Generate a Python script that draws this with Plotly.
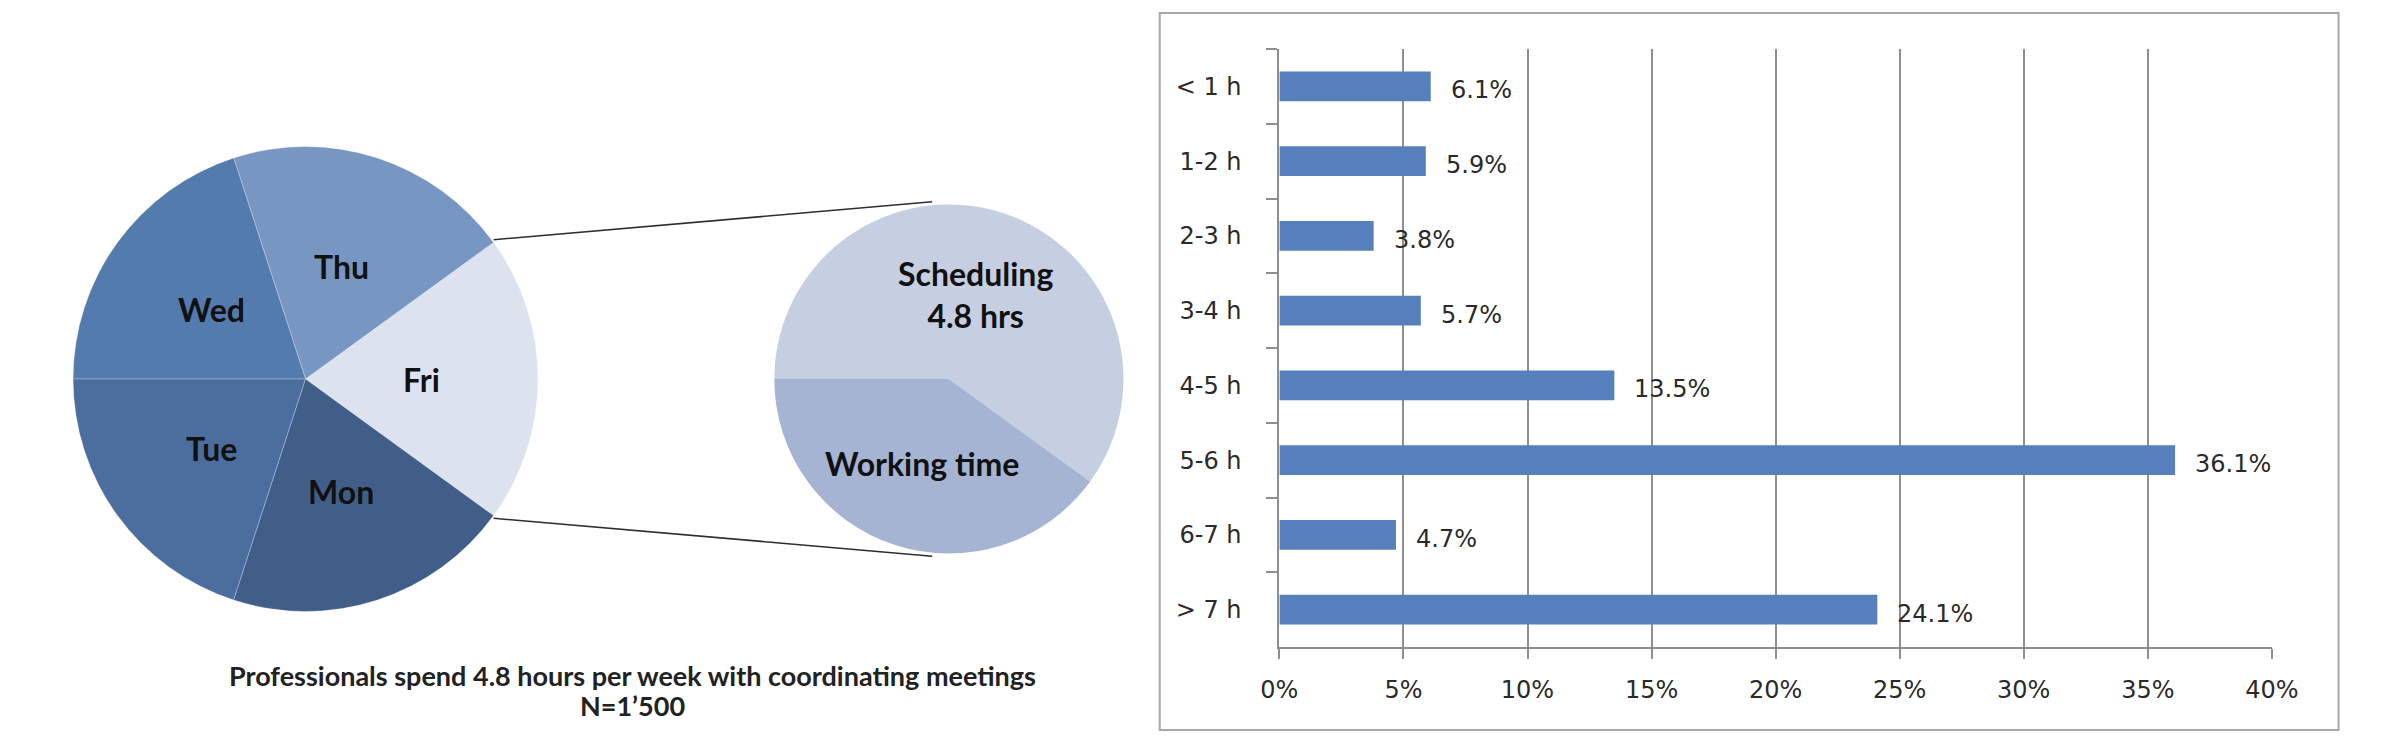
import math
import plotly.graph_objects as go

# ---------------- data ----------------
days = ["Fri", "Thu", "Wed", "Tue", "Mon"]
day_share = [20, 20, 20, 20, 20]
day_colors = ["#DCE2EE", "#7896C2", "#547BAE", "#4C6E9F", "#415E89"]

split_labels = ["Scheduling<br>4.8 hrs", "Working time"]
split_share = [60, 40]
split_colors = ["#C6CEE2", "#A5B4D3"]

hour_bins = ["< 1 h", "1-2 h", "2-3 h", "3-4 h", "4-5 h", "5-6 h", "6-7 h", "> 7 h"]
hour_pct = [6.1, 5.9, 3.8, 5.7, 13.5, 36.1, 4.7, 24.1]

caption = "Professionals spend 4.8 hours per week with coordinating meetings"
sample = "N=1\u2019500"

# ---------------- layout constants ----------------
W, H = 2386, 742
BIG_C, BIG_R = (284, 371), 237
SMALL_C, SMALL_R = (940, 371), 178
START = -36  # math angle (deg) where the first slice begins, slices run counterclockwise
PIE_FONT = "Lato, 'Open Sans', sans-serif"
BAR_FONT = "'DejaVu Sans', Verdana, sans-serif"


def dom(c, r):
    return dict(x=[(c[0] - r) / W, (c[0] + r) / W],
                y=[1 - (c[1] + r) / H, 1 - (c[1] - r) / H])


def to_paper(c, r, ang_deg, frac):
    a = math.radians(ang_deg)
    px = c[0] + frac * r * math.cos(a)
    py = c[1] - frac * r * math.sin(a)
    return px / W, 1 - py / H


def rotation_for(values):
    # plotly (counterclockwise): rotation = clockwise-from-12 angle of the ccw end of slice 1
    first = 360 * values[0] / float(sum(values))
    return 90 - (START + first)


fig = go.Figure()

fig.add_trace(go.Pie(
    labels=days, values=day_share, sort=False, direction="counterclockwise",
    rotation=rotation_for(day_share), textinfo="none", hoverinfo="label+percent",
    marker=dict(colors=day_colors, line=dict(color="rgba(255,255,255,0.25)", width=1)),
    domain=dom(BIG_C, BIG_R), showlegend=False))

fig.add_trace(go.Pie(
    labels=split_labels, values=split_share, sort=False, direction="counterclockwise",
    rotation=rotation_for(split_share), textinfo="none", hoverinfo="label+percent",
    marker=dict(colors=split_colors, line=dict(width=0)),
    domain=dom(SMALL_C, SMALL_R), showlegend=False))

annotations = []


def slice_labels(labels, values, c, r):
    total = float(sum(values))
    cum = 0.0
    for lab, v in zip(labels, values):
        mid = START + 360 * (cum + v / 2) / total
        cum += v
        x, y = to_paper(c, r, mid, 0.5)
        annotations.append(dict(x=x, y=y, xref="paper", yref="paper", text=f"<b>{lab}</b>",
                                showarrow=False, xanchor="center", yanchor="middle",
                                font=dict(family=PIE_FONT, size=32, color="#111111")))
    return START, START + 360 * values[0] / total


fri_start, fri_end = slice_labels(days, day_share, BIG_C, BIG_R)
slice_labels(split_labels, split_share, SMALL_C, SMALL_R)

# connector lines between pies
shapes = []
for a_big, a_small in [(fri_end, 95.5), (fri_start, 264.5)]:
    x0, y0 = to_paper(BIG_C, BIG_R, a_big, 1.0)
    x1, y1 = to_paper(SMALL_C, SMALL_R, a_small, 1.0)
    shapes.append(dict(type="line", xref="paper", yref="paper", x0=x0, y0=y0, x1=x1, y1=y1,
                       line=dict(color="#2E2E2E", width=1.6)))

# frame around bar chart
shapes.append(dict(type="rect", xref="paper", yref="paper",
                   x0=1155 / W, x1=2357 / W, y0=1 - 722 / H, y1=1 - 5 / H,
                   line=dict(color="#A8A8A8", width=2), fillcolor="rgba(0,0,0,0)", layer="below"))

# caption
annotations.append(dict(x=617 / W, y=1 - 667 / H, xref="paper", yref="paper", text=f"<b>{caption}</b>",
                        showarrow=False, xanchor="center", yanchor="middle",
                        font=dict(family=PIE_FONT, size=27, color="#222222")))
annotations.append(dict(x=617 / W, y=1 - 697 / H, xref="paper", yref="paper", text=f"<b>{sample}</b>",
                        showarrow=False, xanchor="center", yanchor="middle",
                        font=dict(family=PIE_FONT, size=27, color="#222222")))

# bar chart
fig.add_trace(go.Bar(
    x=[v / 100 for v in hour_pct], y=hour_bins, orientation="h",
    marker=dict(color="#5580BB", line=dict(width=0)),
    xaxis="x", yaxis="y", showlegend=False, hoverinfo="x+y"))

for lab, v in zip(hour_bins, hour_pct):
    annotations.append(dict(x=v / 100, y=lab, xref="x", yref="y", text=f"{v:.1f}%",
                            showarrow=False, xanchor="left", yanchor="middle",
                            xshift=18, yshift=-4,
                            font=dict(family=BAR_FONT, size=24, color="#2A2A2A")))

fig.update_layout(
    width=W, height=H,
    margin=dict(l=0, r=0, t=0, b=0),
    paper_bgcolor="white", plot_bgcolor="white",
    bargap=0.6,
    xaxis=dict(domain=[1277 / W, 2289 / W], range=[0, 0.40], dtick=0.05, tick0=0,
               tickformat=".0%", showgrid=True, gridcolor="#8E8E8E", gridwidth=2,
               showline=True, linecolor="#8E8E8E", linewidth=2, zeroline=False,
               ticks="outside", ticklen=10, tickwidth=2, tickcolor="#8E8E8E",
               ticklabelstandoff=10,
               tickfont=dict(family=BAR_FONT, size=24, color="#2A2A2A"), fixedrange=True),
    yaxis=dict(domain=[1 - 639 / H, 1 - 41 / H], type="category", autorange="reversed",
               showgrid=False, showline=True, linecolor="#8E8E8E", linewidth=2,
               ticks="outside", tickson="boundaries", ticklen=11, tickwidth=2,
               tickcolor="#8E8E8E", ticklabelstandoff=31,
               tickfont=dict(family=BAR_FONT, size=24, color="#2A2A2A"), fixedrange=True),
    annotations=annotations,
    shapes=shapes,
)

fig.write_html("out.html")
